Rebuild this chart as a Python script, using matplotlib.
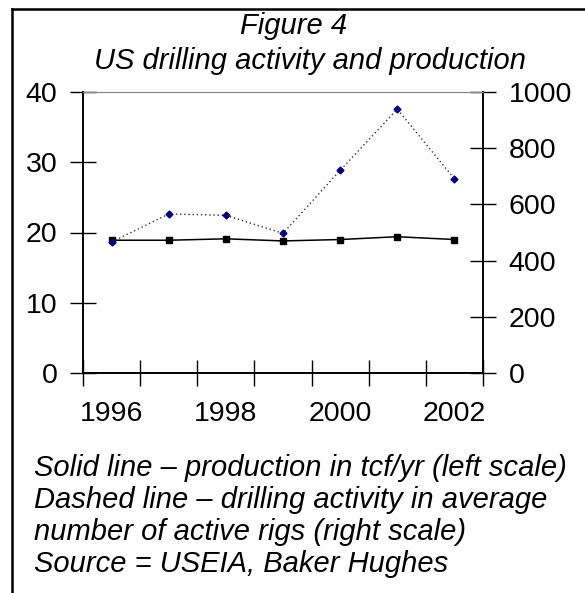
import matplotlib
matplotlib.use("Agg")
import matplotlib.pyplot as plt
from matplotlib.lines import Line2D

plt.rcParams['font.family'] = ['Liberation Sans', 'DejaVu Sans']

# data
years = ['1996', '1997', '1998', '1999', '2000', '2001', '2002']
production = [18.9, 18.9, 19.1, 18.8, 19.0, 19.4, 19.0]   # tcf/yr, left scale
rigs = [466, 566, 561, 497, 721, 939, 691]                 # active rigs, right scale
left_ticks = [0, 10, 20, 30, 40]
right_ticks = [0, 200, 400, 600, 800, 1000]
year_labels = ['1996', '1998', '2000', '2002']

W, H = 585, 593
fig = plt.figure(figsize=(W/100, H/100), dpi=100)
ax = fig.add_axes([83/W, 1-373/H, 400/W, 281/H])
ax2 = ax.twinx()

xs = list(range(len(years)))
ax.plot(xs, production, color='black', lw=1.1, marker='s', ms=4.5, zorder=3)
ax2.plot(xs, rigs, color='#333333', lw=1.0, ls=(0, (1, 2)),
         marker='D', ms=3.5, mfc='#000080', mec='#000080')

ax.set_xlim(-0.5, len(years) - 0.5)
ax.set_ylim(0, 40)
ax2.set_ylim(0, 1000)

# category boundaries get the ticks, every other year gets a label
ax.set_xticks([i - 0.5 for i in range(len(years) + 1)])
ax.set_xticklabels([])
ax.set_xticks([years.index(y) for y in year_labels], year_labels, minor=True)
ax.tick_params(axis='x', which='minor', length=0, pad=20, labelsize=20.5)
ax.tick_params(axis='x', which='major', direction='inout', length=19, width=1)

ax.set_yticks(left_ticks)
ax.tick_params(axis='y', direction='inout', length=19, width=1, labelsize=20.5, pad=9)
ax2.set_yticks(right_ticks)
ax2.tick_params(axis='y', direction='inout', length=19, width=1, labelsize=20.5, pad=9)

for a in (ax, ax2):
    a.spines['top'].set_color('#888888')
    a.spines['left'].set_linewidth(1.2)
    a.spines['right'].set_linewidth(1.2)
    a.spines['bottom'].set_linewidth(1.2)

fig.text(294/W, 1-34/H, 'Figure 4', ha='center', va='baseline',
         fontsize=21, style='italic')
fig.text(310/W, 1-69/H, 'US drilling activity and production', ha='center',
         va='baseline', fontsize=21, style='italic')

notes = ['Solid line \u2013 production in tcf/yr (left scale)',
         'Dashed line \u2013 drilling activity in average',
         'number of active rigs (right scale)',
         'Source = USEIA, Baker Hughes']
for i, line in enumerate(notes):
    fig.text(34/W, 1-(476 + 32*i)/H, line, ha='left', va='baseline',
             fontsize=21, style='italic')

# frame round the figure (left and top edges only)
fig.add_artist(Line2D([11.5/W, 11.5/W], [0, 1-8.5/H], color='black', lw=1.8,
                      transform=fig.transFigure))
fig.add_artist(Line2D([11.5/W, 1], [1-8.5/H, 1-8.5/H], color='black', lw=1.8,
                      transform=fig.transFigure))

fig.savefig('out.png', dpi=100)
